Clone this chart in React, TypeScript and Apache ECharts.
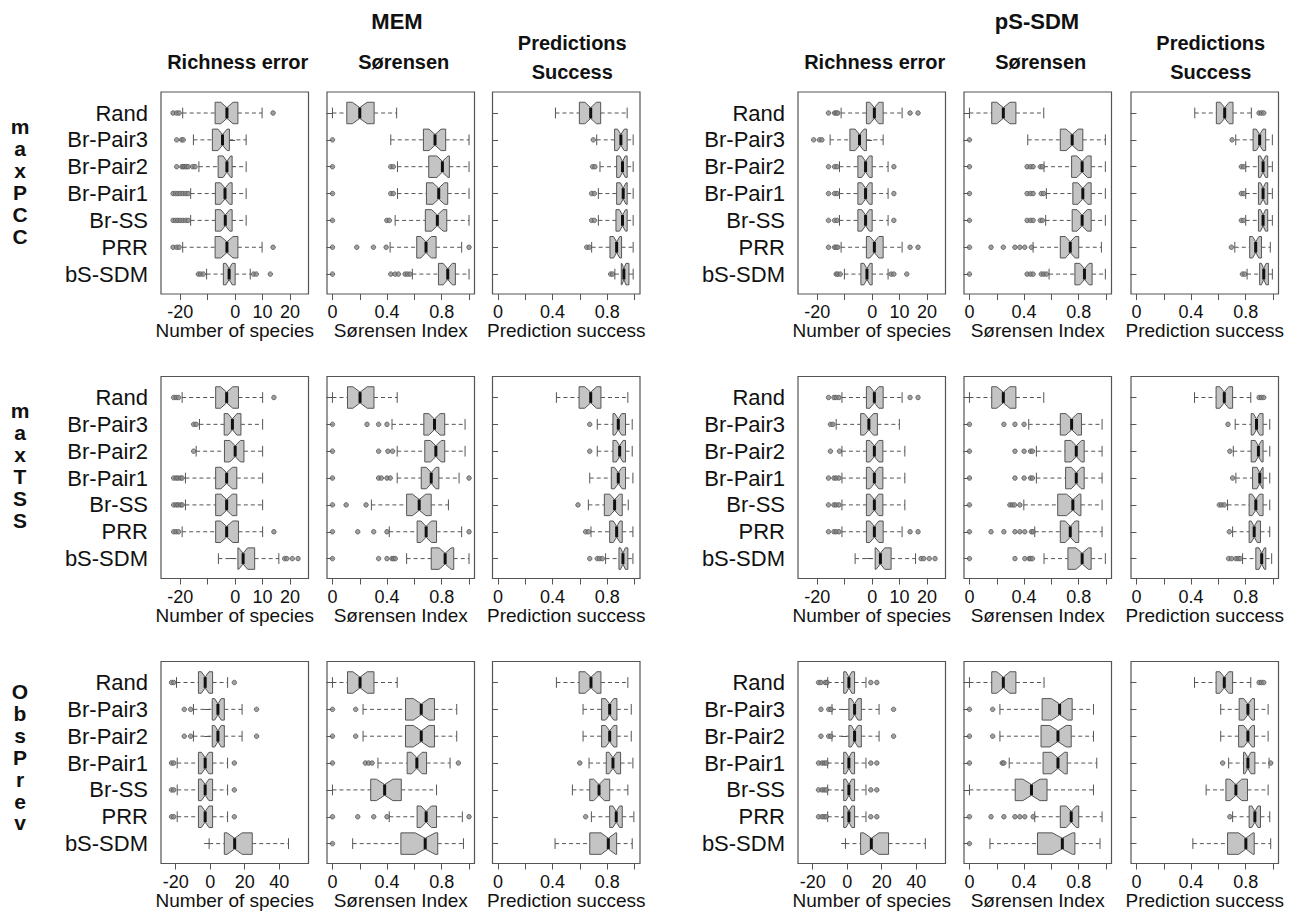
import React, { useEffect, useRef } from "react";
import * as echarts from "echarts";

// ---------- labels ----------
const CATEGORIES = ["Rand", "Br-Pair3", "Br-Pair2", "Br-Pair1", "Br-SS", "PRR", "bS-SDM"];
const METHODS = ["MEM", "pS-SDM"];
const ROW_LABELS = ["maxPCC", "maxTSS", "ObsPrev"];
const COL_TITLES = ["Richness error", "Sørensen", "Predictions\nSuccess"];
const AXIS_NAMES = ["Number of species", "Sørensen Index", "Prediction success"];

// tick definitions
const RICH_TICKS_NARROW = { min: -20, max: 20, interval: 10, hide: [-10] };
const RICH_TICKS_WIDE = { min: -20, max: 40, interval: 20, hide: [] as number[] };
const PROP_TICKS = { min: 0, max: 1, interval: 0.2, show: [0, 0.4, 0.8] };

// visible axis extents (R's extended ranges)
const RICH_RANGE_NARROW = [-27, 26.7];
const RICH_RANGE_WIDE = [-28.5, 57];
const PROP_RANGE = [-0.04, 1.04];

// ---------- data: [lower whisker, Q1, median, Q3, upper whisker] per category ----------
// MEM / maxPCC
const MEM_PCC_RICH = [
  [-19.1, -7.3, -3.0, 1.0, 9.8], [-15.2, -8.3, -4.6, -2.1, 4.0], [-13.2, -6.2, -3.0, -1.1, 4.0],
  [-16.2, -7.2, -3.7, -1.1, 4.0], [-16.2, -7.2, -3.6, -1.1, 4.0], [-19.1, -7.3, -3.0, 1.0, 9.8],
  [-10.4, -4.3, -2.2, 0, 5.5],
];
const MEM_PCC_RICH_OUT = [
  [-22.6, -21.3, -20.4, 13.8], [-21.3, -19.5, -18.9],
  [-21.3, -19.4, -18.9, -18.3, -17.7, -17.1, -15.5, -14.6],
  [-22.6, -21.7, -20.9, -20.0, -19.0, -18.0, -17.1], [-22.6, -21.7, -20.9, -20.0, -19.0, -18.0, -17.1],
  [-22.6, -21.3, -20.4, 13.8], [-13.4, -12.6, -11.6, 6.7, 7.7, 12.8],
];
const MEM_PCC_SOR = [
  [0, 0.105, 0.2, 0.305, 0.47], [0.427, 0.666, 0.751, 0.829, 1.0], [0.476, 0.705, 0.805, 0.856, 1.0],
  [0.476, 0.688, 0.778, 0.844, 1.0], [0.459, 0.68, 0.768, 0.837, 1.0], [0.422, 0.617, 0.685, 0.759, 0.946],
  [0.585, 0.776, 0.844, 0.9, 1.0],
];
const MEM_PCC_SOR_OUT = [
  [], [0], [0, 0.427, 0.446], [0, 0.427, 0.446], [0, 0.398, 0.417], [0, 0.178, 0.3, 0.393, 1.0],
  [0, 0.427, 0.459, 0.483, 0.532, 0.549, 0.568],
];
const MEM_PCC_PRED = [
  [0.421, 0.596, 0.679, 0.752, 0.946], [0.723, 0.854, 0.9, 0.946, 0.99], [0.747, 0.869, 0.912, 0.946, 0.99],
  [0.735, 0.869, 0.917, 0.946, 0.99], [0.735, 0.864, 0.912, 0.946, 0.99], [0.686, 0.82, 0.869, 0.905, 0.99],
  [0.856, 0.903, 0.922, 0.959, 0.99],
];
const MEM_PCC_PRED_OUT = [[], [0.698], [0.693, 0.71], [0.686, 0.706], [0.686, 0.706], [0.65, 0.669], [0.825, 0.839]];

// pS-SDM / maxPCC
const PS_PCC_RICH = [
  [-11.3, -2.1, 0.8, 4.0, 10.9], [-15.3, -8.1, -4.6, -2.1, 4.0], [-11.9, -5.2, -2.4, 0, 5.8],
  [-11.9, -5.2, -2.4, 0, 5.8], [-11.9, -5.2, -2.4, 0, 5.8], [-11.3, -2.1, 0.8, 4.0, 10.9],
  [-10.1, -4.1, -1.9, 0, 5.8],
];
const PS_PCC_RICH_OUT = [
  [-15.9, -13.7, -13.1, -12.5, 13.8, 16.7], [-21.3, -19.2, -18.3], [-15.9, -13.7, -12.8, 7.9],
  [-15.9, -13.7, -12.8, 7.9], [-15.9, -13.7, -12.8, 7.9], [-15.9, -13.7, -13.1, -12.5, 13.8, 16.7],
  [-13.1, -12.5, -11.6, 6.9, 7.9, 12.6],
];
const PS_PCC_SOR = [
  [0, 0.163, 0.248, 0.34, 0.544], [0.427, 0.665, 0.752, 0.83, 0.995], [0.546, 0.748, 0.825, 0.891, 0.995],
  [0.563, 0.757, 0.83, 0.891, 0.995], [0.558, 0.752, 0.825, 0.891, 0.995], [0.466, 0.665, 0.738, 0.8, 0.966],
  [0.583, 0.772, 0.842, 0.898, 0.995],
];
const PS_PCC_SOR_OUT = [
  [], [0], [0, 0.422, 0.447, 0.466, 0.519, 0.534], [0, 0.422, 0.447, 0.466, 0.526, 0.544],
  [0, 0.422, 0.447, 0.466, 0.519, 0.534], [0, 0.158, 0.248, 0.333, 0.369, 0.405, 0.454],
  [0, 0.422, 0.447, 0.466, 0.526, 0.544, 0.563],
];
const PS_PCC_PRED = [
  [0.427, 0.585, 0.646, 0.707, 0.841], [0.727, 0.854, 0.902, 0.946, 0.995], [0.8, 0.893, 0.927, 0.961, 0.995],
  [0.8, 0.893, 0.927, 0.961, 0.995], [0.8, 0.893, 0.927, 0.961, 0.995], [0.72, 0.829, 0.873, 0.915, 0.98],
  [0.81, 0.902, 0.932, 0.966, 0.995],
];
const PS_PCC_PRED_OUT = [[0.898, 0.915, 0.932], [0.7], [0.768, 0.785], [0.768, 0.785], [0.768, 0.785], [0.695], [0.776, 0.793]];

// MEM / maxTSS
const MEM_TSS_RICH = [
  [-19.3, -7.1, -3.1, 1.2, 10.0], [-13.0, -4.0, -1.0, 2.1, 10.0], [-14.2, -3.9, 0, 3.2, 10.0],
  [-18.1, -7.1, -3.1, 0.6, 10.0], [-18.1, -7.1, -3.1, 0.6, 10.0], [-19.3, -7.1, -3.1, 1.2, 10.0],
  [-6.1, 1.0, 2.9, 7.1, 15.9],
];
const MEM_TSS_RICH_OUT = [
  [-22.4, -21.5, -20.6, 14.1], [-15.1, -14.2], [-15.1], [-22.4, -21.5, -20.8, -19.9, -19.3],
  [-22.4, -21.5, -20.8, -19.9, -19.3], [-22.4, -21.5, -20.6, 14.1], [18.0, 18.8, 20.8, 22.9],
];
const MEM_TSS_SOR = [
  [0, 0.11, 0.202, 0.304, 0.474], [0.436, 0.669, 0.747, 0.822, 0.971], [0.474, 0.676, 0.757, 0.822, 0.971],
  [0.474, 0.65, 0.723, 0.779, 0.927], [0.285, 0.543, 0.635, 0.723, 0.849], [0.416, 0.62, 0.686, 0.762, 0.946],
  [0.543, 0.723, 0.825, 0.888, 1.0],
];
const MEM_TSS_SOR_OUT = [
  [], [0, 0.253, 0.338, 0.399], [0, 0.338, 0.406, 0.44], [0, 0.338, 0.358, 0.399, 0.423, 1.0],
  [0, 0.1, 0.246], [0, 0.185, 0.302, 0.399, 1.0], [0, 0.338, 0.399, 0.436, 0.448, 0.46],
];
const MEM_TSS_PRED = [
  [0.428, 0.594, 0.679, 0.754, 0.951], [0.727, 0.842, 0.881, 0.934, 0.983], [0.727, 0.842, 0.891, 0.934, 0.983],
  [0.672, 0.83, 0.881, 0.934, 0.988], [0.662, 0.779, 0.854, 0.91, 0.954], [0.681, 0.818, 0.869, 0.91, 0.988],
  [0.788, 0.886, 0.915, 0.951, 0.988],
];
const MEM_TSS_PRED_OUT = [[], [0.672], [0.672], [], [0.586], [0.642, 0.662], [0.672, 0.727, 0.745, 0.764]];

// pS-SDM / maxTSS
const PS_TSS_RICH = [
  [-11.0, -2.1, 0.8, 4.0, 10.9], [-13.1, -4.2, -1.2, 1.9, 9.9], [-11.0, -2.1, 0.8, 3.9, 11.9],
  [-11.0, -2.1, 0.8, 3.9, 11.9], [-11.0, -2.1, 0.8, 3.9, 11.9], [-11.0, -2.1, 0.8, 4.0, 10.9],
  [-6.2, 1.1, 3.0, 6.9, 15.8],
];
const PS_TSS_RICH_OUT = [
  [-15.9, -13.9, -13.1, -12.1, 13.8, 16.7], [-15.2, -14.3], [-15.2, -11.9], [-15.9, -13.9, -13.1, -12.1],
  [-15.9, -13.9, -13.1, -12.1], [-15.9, -13.9, -13.1, -12.1, 13.8, 16.7], [17.8, 18.8, 20.8, 22.9],
];
const PS_TSS_SOR = [
  [0, 0.163, 0.248, 0.34, 0.544], [0.434, 0.665, 0.748, 0.82, 0.971], [0.49, 0.699, 0.782, 0.84, 0.971],
  [0.49, 0.704, 0.782, 0.84, 0.971], [0.398, 0.646, 0.757, 0.816, 0.971], [0.478, 0.665, 0.738, 0.8, 0.971],
  [0.546, 0.721, 0.825, 0.891, 0.995],
];
const PS_TSS_SOR_OUT = [
  [], [0, 0.252, 0.333, 0.4], [0, 0.333, 0.4, 0.447, 0.461], [0, 0.333, 0.4, 0.447, 0.461],
  [0, 0.296, 0.313, 0.33, 0.369], [0, 0.158, 0.252, 0.333, 0.369, 0.405, 0.454, 0.466],
  [0, 0.333, 0.405, 0.437, 0.447, 0.461],
];
const PS_TSS_PRED = [
  [0.425, 0.583, 0.643, 0.704, 0.837], [0.723, 0.84, 0.879, 0.927, 0.976], [0.709, 0.84, 0.893, 0.927, 0.976],
  [0.728, 0.85, 0.903, 0.927, 0.976], [0.667, 0.825, 0.874, 0.927, 0.976], [0.704, 0.825, 0.862, 0.908, 0.976],
  [0.777, 0.874, 0.917, 0.947, 0.99],
];
const PS_TSS_PRED_OUT = [[0.898, 0.915, 0.932], [0.67], [0.684], [0.704], [0.607, 0.624, 0.643], [0.68], [0.675, 0.697, 0.728, 0.745, 0.76]];

// MEM / ObsPrev
const MEM_OBS_RICH = [
  [-19.5, -6.8, -2.9, 1.4, 10.1], [-9.7, 1.2, 4.5, 8.2, 18.5], [-9.7, 1.2, 4.5, 8.2, 18.5],
  [-19.1, -6.8, -2.9, 1.4, 10.1], [-19.1, -6.8, -2.9, 1.4, 10.1], [-19.1, -6.8, -2.9, 1.4, 10.1],
  [-0.6, 8.2, 14.2, 24.4, 45.4],
];
const MEM_OBS_RICH_OUT = [
  [-22.4, -21.1, 14.0], [-15.0, -11.3, 26.9], [-15.0, -11.3, 26.9], [-22.4, -21.1, 14.0],
  [-22.4, -21.1, 14.0], [-22.4, -21.1, 14.0], [],
];
const MEM_OBS_SOR = [
  [0, 0.11, 0.202, 0.304, 0.474], [0.224, 0.535, 0.65, 0.747, 0.91], [0.224, 0.535, 0.65, 0.747, 0.91],
  [0.333, 0.547, 0.618, 0.689, 0.861], [0, 0.28, 0.382, 0.504, 0.762], [0.416, 0.62, 0.686, 0.762, 0.951],
  [0.148, 0.501, 0.679, 0.771, 0.959],
];
const MEM_OBS_SOR_OUT = [[], [0, 0.17], [0, 0.17], [0, 0.241, 0.265, 0.29, 0.922], [], [0, 0.185, 0.302, 0.399, 1.0], [0]];
const MEM_OBS_PRED = [
  [0.428, 0.594, 0.681, 0.754, 0.951], [0.623, 0.759, 0.818, 0.871, 0.976], [0.623, 0.759, 0.818, 0.871, 0.976],
  [0.667, 0.793, 0.842, 0.898, 0.988], [0.545, 0.672, 0.74, 0.818, 0.951], [0.684, 0.818, 0.866, 0.91, 0.995],
  [0.418, 0.672, 0.808, 0.869, 0.983],
];
const MEM_OBS_PRED_OUT = [[], [], [], [0.599], [], [0.642], []];

// pS-SDM / ObsPrev
const PS_OBS_RICH = [
  [-11.3, -2.0, 1.0, 4.3, 10.9], [-8.8, 1.0, 4.3, 8.2, 18.5], [-8.8, 1.0, 4.3, 8.2, 18.5],
  [-11.3, -2.0, 1.0, 4.3, 10.9], [-11.3, -2.0, 1.0, 4.3, 10.9], [-11.3, -2.0, 1.0, 4.3, 10.9],
  [-1.0, 7.8, 14.0, 24.0, 45.3],
];
const PS_OBS_RICH_OUT = [
  [-16.6, -15.2, -12.7, -11.7, 13.7, 17.2], [-15.2, -10.7, -9.4, 26.9], [-15.2, -10.7, -9.4, 26.9],
  [-16.6, -14.6, -13.3, -12.1, 13.7, 17.2], [-16.6, -14.6, -13.3, -12.1, 13.7, 17.2],
  [-16.6, -14.6, -13.3, -12.1, 13.7, 17.2], [],
];
const PS_OBS_SOR = [
  [0, 0.163, 0.248, 0.34, 0.546], [0.223, 0.532, 0.66, 0.752, 0.908], [0.223, 0.524, 0.648, 0.745, 0.908],
  [0.291, 0.539, 0.648, 0.716, 0.932], [0, 0.335, 0.454, 0.568, 0.908], [0.478, 0.665, 0.745, 0.8, 0.971],
  [0.15, 0.498, 0.68, 0.772, 0.956],
];
const PS_OBS_SOR_OUT = [[], [0, 0.17], [0, 0.17], [0, 0.24, 0.252], [], [0, 0.158, 0.252, 0.333, 0.369, 0.405, 0.466], [0]];
const PS_OBS_PRED = [
  [0.425, 0.583, 0.643, 0.704, 0.837], [0.617, 0.752, 0.816, 0.864, 0.964], [0.617, 0.748, 0.816, 0.864, 0.964],
  [0.675, 0.784, 0.816, 0.867, 0.971], [0.51, 0.655, 0.728, 0.813, 0.964], [0.704, 0.825, 0.867, 0.908, 0.976],
  [0.413, 0.667, 0.801, 0.862, 0.983],
];
const PS_OBS_PRED_OUT = [[0.898, 0.915, 0.932], [], [], [0.631, 0.983], [], [0.684], []];

// panel table: [method][row][column]
const PANEL_DATA = [
  [
    [[MEM_PCC_RICH, MEM_PCC_RICH_OUT], [MEM_PCC_SOR, MEM_PCC_SOR_OUT], [MEM_PCC_PRED, MEM_PCC_PRED_OUT]],
    [[MEM_TSS_RICH, MEM_TSS_RICH_OUT], [MEM_TSS_SOR, MEM_TSS_SOR_OUT], [MEM_TSS_PRED, MEM_TSS_PRED_OUT]],
    [[MEM_OBS_RICH, MEM_OBS_RICH_OUT], [MEM_OBS_SOR, MEM_OBS_SOR_OUT], [MEM_OBS_PRED, MEM_OBS_PRED_OUT]],
  ],
  [
    [[PS_PCC_RICH, PS_PCC_RICH_OUT], [PS_PCC_SOR, PS_PCC_SOR_OUT], [PS_PCC_PRED, PS_PCC_PRED_OUT]],
    [[PS_TSS_RICH, PS_TSS_RICH_OUT], [PS_TSS_SOR, PS_TSS_SOR_OUT], [PS_TSS_PRED, PS_TSS_PRED_OUT]],
    [[PS_OBS_RICH, PS_OBS_RICH_OUT], [PS_OBS_SOR, PS_OBS_SOR_OUT], [PS_OBS_PRED, PS_OBS_PRED_OUT]],
  ],
];

// ---------- layout ----------
const FONT = "'Liberation Sans', Arial, Helvetica, sans-serif";
const FRAME_TOPS = [92, 376.5, 661.5];
const FRAME_H = 202;
const FRAME_W = 147.5;
const FRAME_LEFTS = [
  [161, 327, 492.5],
  [798, 964, 1131],
];
const CAT_PAD = 21;
const CAT_STEP = 26.85;
const NOTCH = 0.27;
const BOX_FILL = "#c4c4c4";
const INK = "#555";
const TEXT = "#111";
const ROW_FIRST_BASE = [137, 421, 702];
const ROW_LINE = 21.9;

function buildOption() {
  const grid: any[] = [];
  const xAxis: any[] = [];
  const yAxis: any[] = [];
  const series: any[] = [];
  const graphic: any[] = [];

  for (let m = 0; m < 2; m++) {
    for (let r = 0; r < 3; r++) {
      for (let c = 0; c < 3; c++) {
        const [boxes, outs] = PANEL_DATA[m][r][c] as any;
        const L = FRAME_LEFTS[m][c];
        const T = FRAME_TOPS[r];
        const range = c === 0 ? (r === 2 ? RICH_RANGE_WIDE : RICH_RANGE_NARROW) : PROP_RANGE;
        const ticks: any = c === 0 ? (r === 2 ? RICH_TICKS_WIDE : RICH_TICKS_NARROW) : PROP_TICKS;
        const span = range[1] - range[0];
        const base = grid.length;

        // frame grid (border + axis name)
        grid.push({ left: L, top: T, width: FRAME_W, height: FRAME_H, show: true, borderColor: INK, borderWidth: 1.2, backgroundColor: "transparent" });
        xAxis.push({
          gridIndex: base, type: "value", min: range[0], max: range[1],
          axisLine: { show: false }, axisTick: { show: false }, axisLabel: { show: false }, splitLine: { show: false },
          name: AXIS_NAMES[c], nameLocation: "middle", nameGap: 27,
          nameTextStyle: { fontSize: 19, color: TEXT, fontFamily: FONT, lineHeight: 19 },
        });
        yAxis.push({ gridIndex: base, type: "value", show: false });

        // data grid (categories)
        grid.push({ left: L, top: T + CAT_PAD - CAT_STEP / 2, width: FRAME_W, height: CAT_STEP * 7 });
        xAxis.push({ gridIndex: base + 1, type: "value", min: range[0], max: range[1], show: false });
        yAxis.push({
          gridIndex: base + 1, type: "category", data: CATEGORIES, inverse: true, boundaryGap: true,
          axisLine: { show: false },
          axisTick: { show: true, alignWithLabel: true, interval: 0, length: 6, lineStyle: { color: INK, width: 1 } },
          axisLabel: { show: c === 0, interval: 0, fontSize: 22, lineHeight: 22, color: TEXT, fontFamily: FONT, margin: 13 },
          splitLine: { show: false },
        });

        // tick grid (x ticks & labels)
        const aLeft = L + ((ticks.min - range[0]) / span) * FRAME_W;
        const aWidth = ((ticks.max - ticks.min) / span) * FRAME_W;
        grid.push({ left: aLeft, top: T, width: aWidth, height: FRAME_H });
        xAxis.push({
          gridIndex: base + 2, type: "value", min: ticks.min, max: ticks.max, interval: ticks.interval,
          axisLine: { show: false },
          axisTick: { show: true, length: 6, lineStyle: { color: INK, width: 1 } },
          splitLine: { show: false },
          axisLabel: {
            fontSize: 18, color: TEXT, fontFamily: FONT, margin: 9, lineHeight: 18,
            formatter: (v: number) => {
              if (c === 0) return ticks.hide.includes(v) ? "" : String(v);
              const ok = ticks.show.some((s: number) => Math.abs(s - v) < 1e-6);
              return ok ? String(Math.round(v * 10) / 10) : "";
            },
          },
        });
        yAxis.push({ gridIndex: base + 2, type: "value", show: false });

        // boxes
        series.push({
          type: "custom",
          coordinateSystem: "cartesian2d",
          xAxisIndex: base + 1,
          yAxisIndex: base + 1,
          encode: { y: 0, x: [1, 2, 3, 4, 5] },
          data: boxes.map((b: number[], i: number) => [i, ...b]),
          renderItem: (params: any, api: any) => {
            const cat = api.value(0);
            const lo = api.value(1), q1 = api.value(2), md = api.value(3), q3 = api.value(4), hi = api.value(5);
            const band = api.size([0, 1])[1];
            const w = band * 0.4;
            const nh = NOTCH * (q3 - q1);
            const X = (v: number) => api.coord([v, cat])[0];
            const yc = api.coord([md, cat])[1];
            const xlo = X(lo), xq1 = X(q1), xmd = X(md), xq3 = X(q3), xhi = X(hi);
            const xnl = X(Math.max(q1, md - nh)), xnu = X(Math.min(q3, md + nh));
            const dash = { stroke: INK, lineWidth: 1, lineDash: [4, 3], fill: null };
            const solid = { stroke: INK, lineWidth: 1, fill: null };
            return {
              type: "group",
              children: [
                { type: "line", shape: { x1: xlo, y1: yc, x2: xq1, y2: yc }, style: dash },
                { type: "line", shape: { x1: xq3, y1: yc, x2: xhi, y2: yc }, style: dash },
                { type: "line", shape: { x1: xlo, y1: yc - w / 2, x2: xlo, y2: yc + w / 2 }, style: solid },
                { type: "line", shape: { x1: xhi, y1: yc - w / 2, x2: xhi, y2: yc + w / 2 }, style: solid },
                {
                  type: "polygon",
                  shape: {
                    points: [
                      [xq1, yc - w], [xnl, yc - w], [xmd, yc - w / 2], [xnu, yc - w], [xq3, yc - w],
                      [xq3, yc + w], [xnu, yc + w], [xmd, yc + w / 2], [xnl, yc + w], [xq1, yc + w],
                    ],
                  },
                  style: { fill: BOX_FILL, stroke: INK, lineWidth: 1 },
                },
                { type: "line", shape: { x1: xmd, y1: yc - w / 2, x2: xmd, y2: yc + w / 2 }, style: { stroke: "#111", lineWidth: 3 } },
              ],
            };
          },
        });

        // outliers
        const pts: number[][] = [];
        outs.forEach((arr: number[], i: number) => arr.forEach((v) => pts.push([v, i])));
        series.push({
          type: "scatter",
          xAxisIndex: base + 1,
          yAxisIndex: base + 1,
          data: pts,
          symbol: "circle",
          symbolSize: 4.5,
          itemStyle: { color: "#8a8a8a", borderColor: INK, borderWidth: 1 },
          z: 3,
        });
      }
    }
  }

  // method titles
  const METHOD_X = [397, 1037];
  METHODS.forEach((t, m) =>
    graphic.push({ type: "text", x: METHOD_X[m], y: 21, style: { text: t, font: `bold 22px ${FONT}`, fill: TEXT, textAlign: "center", textVerticalAlign: "middle" } })
  );
  // column titles
  for (let m = 0; m < 2; m++) {
    COL_TITLES.forEach((t, c) => {
      const cx = FRAME_LEFTS[m][c] + FRAME_W / 2 + (c === 2 ? 6 : 3);
      const lines = t.split("\n");
      lines.forEach((line, k) => {
        const cy = lines.length === 1 ? 62 : 43 + k * 29;
        graphic.push({
          type: "text", x: cx, y: cy,
          style: { text: line, font: `bold 20px ${FONT}`, fill: TEXT, textAlign: "center", textVerticalAlign: "middle" },
        });
      });
    });
  }
  // row labels (stacked letters)
  ROW_LABELS.forEach((t, r) =>
    t.split("").forEach((ch, k) =>
      graphic.push({
        type: "text", x: 20, y: ROW_FIRST_BASE[r] + k * ROW_LINE,
        style: { text: ch, font: `bold 21px ${FONT}`, fill: TEXT, textAlign: "center", textVerticalAlign: "bottom" },
      })
    )
  );

  return {
    animation: false,
    backgroundColor: "#ffffff",
    textStyle: { fontFamily: FONT },
    grid, xAxis, yAxis, series, graphic,
  };
}

export default function App() {
  const ref = useRef<HTMLDivElement>(null);
  useEffect(() => {
    if (!ref.current) return;
    const chart = echarts.init(ref.current, undefined, { renderer: "svg" });
    chart.setOption(buildOption() as any);
    return () => chart.dispose();
  }, []);
  return <div ref={ref} style={{ position: "absolute", left: 0, top: 0, width: 1295, height: 915, background: "#fff" }} />;
}
